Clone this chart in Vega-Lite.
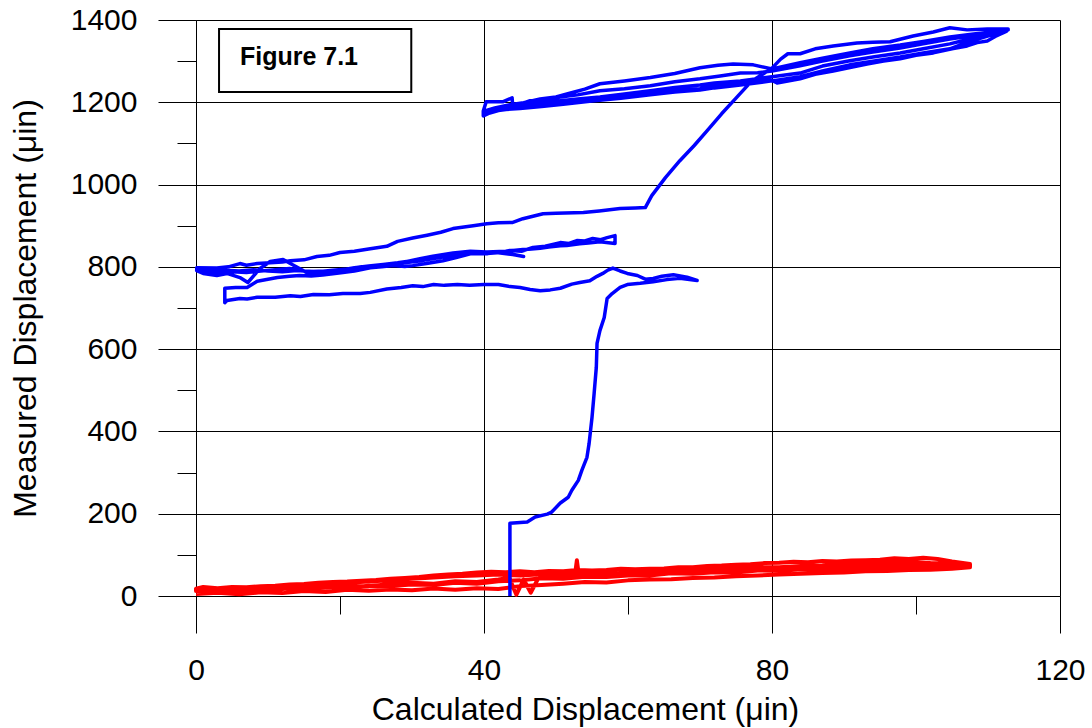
{
  "$schema": "https://vega.github.io/schema/vega-lite/v6.json",
  "width": 864,
  "height": 576,
  "autosize": "none",
  "padding": {"left": 196, "top": 20, "right": 32, "bottom": 132},
  "background": "white",
  "config": {"view": {"stroke": null}, "font": "Liberation Sans"},
  "datasets": {
    "red": [
      {"x":0,"y":5},{"x":3,"y":8},{"x":6,"y":4},{"x":9,"y":9},{"x":12,"y":7},{"x":15,"y":12},{"x":18,"y":10},{"x":21,"y":15},{"x":24,"y":13},{"x":27,"y":16},{"x":30,"y":14},{"x":33,"y":18},{"x":36,"y":15},{"x":39,"y":19},{"x":42,"y":17},{"x":45,"y":24},{"x":48,"y":27},{"x":51,"y":30},{"x":54,"y":34},{"x":57,"y":33},{"x":60,"y":38},{"x":63,"y":40},{"x":66,"y":41},{"x":69,"y":44},{"x":72,"y":45},{"x":75,"y":48},{"x":78,"y":50},{"x":81,"y":52},{"x":84,"y":54},{"x":87,"y":56},{"x":90,"y":57},{"x":93,"y":60},{"x":96,"y":61},{"x":99,"y":63},{"x":102,"y":64},{"x":105,"y":66},{"x":107.5,"y":70},
      {"x":107.5,"y":78},{"x":105,"y":84},{"x":103,"y":90},{"x":101,"y":93},{"x":99,"y":90},{"x":97,"y":92},{"x":95,"y":88},{"x":93,"y":87},{"x":91,"y":86},{"x":89,"y":84},{"x":87,"y":85},{"x":85,"y":82},{"x":83,"y":83},{"x":81,"y":81},{"x":79,"y":80},{"x":77,"y":77},{"x":75,"y":76},{"x":73,"y":74},{"x":71,"y":73},{"x":69,"y":70},{"x":67,"y":70},{"x":65,"y":67},{"x":63,"y":66},{"x":61,"y":65},{"x":59,"y":66},{"x":57,"y":63},{"x":55,"y":62},{"x":53,"y":63},{"x":51,"y":60},{"x":49,"y":61},{"x":47,"y":58},{"x":45,"y":60},{"x":43,"y":58},{"x":41,"y":59},{"x":39,"y":57},{"x":37,"y":54},{"x":35,"y":52},{"x":33,"y":50},{"x":31,"y":46},{"x":29,"y":44},{"x":27,"y":42},{"x":25,"y":39},{"x":23,"y":37},{"x":21,"y":35},{"x":19,"y":34},{"x":17,"y":32},{"x":15,"y":29},{"x":13,"y":28},{"x":11,"y":25},{"x":9,"y":24},{"x":7,"y":21},{"x":5,"y":22},{"x":3,"y":19},{"x":1,"y":22},{"x":0,"y":18},
      {"x":0,"y":12},{"x":3,"y":15},{"x":6,"y":14},{"x":9,"y":19},{"x":12,"y":17},{"x":15,"y":22},{"x":18,"y":20},{"x":21,"y":25},{"x":24,"y":24},{"x":27,"y":29},{"x":30,"y":32},{"x":33,"y":30},{"x":36,"y":36},{"x":39,"y":34},{"x":42,"y":40},{"x":43.5,"y":44},{"x":44.5,"y":3},{"x":45.5,"y":40},{"x":46.5,"y":8},{"x":47.5,"y":42},{"x":48,"y":44},{"x":51,"y":45},{"x":52.6,"y":47},{"x":52.9,"y":87},{"x":53.2,"y":47},{"x":54,"y":47},{"x":57,"y":50},{"x":60,"y":51},{"x":63,"y":54},{"x":66,"y":55},{"x":69,"y":59},{"x":72,"y":60},{"x":75,"y":62},{"x":78,"y":65},{"x":81,"y":66},{"x":84,"y":69},{"x":87,"y":70},{"x":90,"y":72},{"x":93,"y":74},{"x":96,"y":75},{"x":99,"y":78},{"x":102,"y":77},{"x":105,"y":76},{"x":107.5,"y":74},
      {"x":107.5,"y":70},{"x":105,"y":67},{"x":102,"y":70},{"x":99,"y":68},{"x":96,"y":70},{"x":93,"y":66},{"x":90,"y":67},{"x":87,"y":64},{"x":84,"y":65},{"x":81,"y":61},{"x":78,"y":62},{"x":75,"y":57},{"x":72,"y":58},{"x":69,"y":54},{"x":66,"y":55},{"x":63,"y":50},{"x":60,"y":50},{"x":57,"y":46},{"x":54,"y":47},{"x":51,"y":42},{"x":48,"y":43},{"x":45,"y":38},{"x":42,"y":36},{"x":39,"y":30},{"x":36,"y":32},{"x":33,"y":27},{"x":30,"y":28},{"x":27,"y":24},{"x":24,"y":25},{"x":21,"y":20},{"x":18,"y":22},{"x":15,"y":17},{"x":12,"y":18},{"x":9,"y":13},{"x":6,"y":15},{"x":3,"y":10},{"x":0,"y":12},
      {"x":0,"y":16},{"x":3,"y":19},{"x":6,"y":18},{"x":9,"y":23},{"x":12,"y":22},{"x":15,"y":27},{"x":18,"y":28},{"x":21,"y":32},{"x":24,"y":35},{"x":27,"y":38},{"x":30,"y":42},{"x":33,"y":45},{"x":36,"y":48},{"x":39,"y":50},{"x":42,"y":52},{"x":45,"y":50},{"x":48,"y":53},{"x":51,"y":52},{"x":54,"y":55},{"x":57,"y":54},{"x":60,"y":57},{"x":63,"y":58},{"x":66,"y":61},{"x":69,"y":62},{"x":72,"y":65},{"x":75,"y":66},{"x":78,"y":70},{"x":81,"y":70},{"x":84,"y":73},{"x":87,"y":74},{"x":90,"y":78},{"x":93,"y":77},{"x":96,"y":82},{"x":99,"y":84},{"x":102,"y":80},{"x":105,"y":79},{"x":107.5,"y":76}
    ],
    "blue": [
      {"x":43.6,"y":0},{"x":43.6,"y":177},{"x":46.0,"y":180},{"x":47.1,"y":192},{"x":48.8,"y":199},{"x":49.4,"y":204},{"x":50.6,"y":226},{"x":51.7,"y":240},{"x":52.2,"y":257},{"x":53.1,"y":281},{"x":53.6,"y":306},{"x":54.3,"y":337},{"x":54.6,"y":371},{"x":55.0,"y":434},{"x":55.3,"y":493},{"x":55.6,"y":556},{"x":55.7,"y":614},{"x":56.1,"y":645},{"x":56.7,"y":677},{"x":57.1,"y":723},{"x":57.8,"y":735},{"x":58.9,"y":750},{"x":59.9,"y":757},{"x":61.7,"y":760},{"x":63.5,"y":764},{"x":65.4,"y":769},{"x":67.2,"y":772},{"x":69.6,"y":767},
      {"x":68.2,"y":775},{"x":66.3,"y":781},{"x":64.7,"y":777},{"x":63.5,"y":772},{"x":62.4,"y":770},{"x":61.3,"y":779},{"x":59.9,"y":784},{"x":58.9,"y":790},{"x":57.9,"y":797},{"x":57.2,"y":792},{"x":56.5,"y":784},{"x":55.7,"y":777},{"x":54.7,"y":766},{"x":53.3,"y":762},{"x":52.2,"y":758},{"x":50.6,"y":748},{"x":49.2,"y":744},{"x":47.8,"y":742},{"x":46.4,"y":745},{"x":45.0,"y":750},{"x":43.6,"y":752},{"x":42.0,"y":757},{"x":40.0,"y":757},{"x":38.0,"y":755},{"x":36.3,"y":757},{"x":34.5,"y":755},{"x":33.0,"y":757},{"x":31.5,"y":752},{"x":30.1,"y":754},{"x":28.5,"y":750},{"x":26.5,"y":746},{"x":24.2,"y":738},{"x":22.8,"y":735},{"x":20.4,"y":735},{"x":18.5,"y":732},{"x":16.3,"y":733},{"x":14.5,"y":728},{"x":13.1,"y":730},{"x":11.0,"y":726},{"x":8.5,"y":726},{"x":7.1,"y":722},{"x":6.1,"y":723},{"x":4.3,"y":718},{"x":4.0,"y":713},
      {"x":4.0,"y":748},{"x":5.5,"y":750},{"x":7.1,"y":750},{"x":8.5,"y":765},{"x":10,"y":770},{"x":11.3,"y":774},{"x":13,"y":777},{"x":14.4,"y":779},{"x":16,"y":778},{"x":17.6,"y":780},{"x":19,"y":783},{"x":20.4,"y":786},{"x":22,"y":790},{"x":24.2,"y":798},{"x":25.8,"y":800},{"x":27.4,"y":803},{"x":29,"y":801},{"x":30.1,"y":803},{"x":32,"y":808},{"x":34.3,"y":815},{"x":36,"y":822},{"x":38.1,"y":832},{"x":40,"y":832},{"x":41.8,"y":834},{"x":43.6,"y":840},{"x":45.2,"y":838},{"x":46.8,"y":847},{"x":48.5,"y":850},{"x":50.6,"y":859},{"x":51.8,"y":857},{"x":52.9,"y":864},{"x":54,"y":863},{"x":55.1,"y":869},{"x":56.2,"y":866},{"x":57.1,"y":871},{"x":58.2,"y":876},{"x":58.2,"y":857},
      {"x":56.1,"y":861},{"x":54.5,"y":858},{"x":53.3,"y":856},{"x":51.5,"y":852},{"x":50.6,"y":851},{"x":49,"y":848},{"x":47.8,"y":845},{"x":46.2,"y":843},{"x":45.4,"y":842},{"x":43.0,"y":838},{"x":40.4,"y":836},{"x":38.1,"y":838},{"x":35.7,"y":834},{"x":32.9,"y":826},{"x":31.1,"y":820},{"x":29.0,"y":812},{"x":27.4,"y":808},{"x":24.5,"y":800},{"x":22.8,"y":796},{"x":21.4,"y":796},{"x":19.0,"y":787},{"x":16.8,"y":784},{"x":15.4,"y":786},{"x":13.1,"y":808},{"x":12.1,"y":818},{"x":10.3,"y":813},{"x":8.9,"y":796},{"x":7.2,"y":762},{"x":6.1,"y":774},{"x":4.3,"y":784},{"x":2.9,"y":779},{"x":1.0,"y":784},{"x":0.1,"y":791},
      {"x":1.5,"y":787},{"x":3,"y":785},{"x":5,"y":788},{"x":7,"y":786},{"x":9,"y":790},{"x":11,"y":793},{"x":13,"y":796},{"x":15,"y":790},{"x":17,"y":788},{"x":19,"y":792},{"x":21,"y":795},{"x":23,"y":800},{"x":25,"y":803},{"x":27,"y":806},{"x":29,"y":810},{"x":31,"y":814},{"x":33,"y":820},{"x":35,"y":826},{"x":37,"y":830},{"x":39,"y":834},{"x":40.4,"y":832},{"x":42,"y":836},{"x":43.6,"y":832},{"x":45.5,"y":825},
      {"x":44,"y":830},{"x":42,"y":834},{"x":40,"y":836},{"x":38,"y":833},{"x":36,"y":829},{"x":34,"y":826},{"x":32,"y":820},{"x":30,"y":815},{"x":28,"y":810},{"x":26,"y":806},{"x":24,"y":802},{"x":22,"y":798},{"x":20,"y":792},{"x":18,"y":790},{"x":16,"y":789},{"x":14,"y":791},{"x":12,"y":788},{"x":10,"y":790},{"x":8,"y":793},{"x":6,"y":790},{"x":4,"y":792},{"x":2,"y":789},{"x":0.1,"y":793},
      {"x":0.1,"y":798},{"x":2.9,"y":797},{"x":4.5,"y":800},{"x":6.1,"y":808},{"x":7,"y":804},{"x":8.5,"y":808},{"x":10.3,"y":810},{"x":12,"y":812},{"x":13.1,"y":815},{"x":15,"y":817},{"x":16.8,"y":825},{"x":18.5,"y":828},{"x":20,"y":835},{"x":22,"y":838},{"x":24.2,"y":844},{"x":26.5,"y":850},{"x":28,"y":862},{"x":30.1,"y":870},{"x":32.1,"y":877},{"x":34,"y":884},{"x":35.7,"y":893},{"x":38.5,"y":900},{"x":40.4,"y":905},{"x":42,"y":907},{"x":44.0,"y":908},{"x":45.4,"y":917},{"x":48.2,"y":929},{"x":50,"y":930},{"x":53.8,"y":932},{"x":56,"y":936},{"x":58.9,"y":942},{"x":61,"y":943},{"x":62.4,"y":944},{"x":63.3,"y":973},{"x":65.2,"y":1017},{"x":67.2,"y":1058},{"x":69.2,"y":1095},{"x":71,"y":1131},{"x":73,"y":1172},{"x":75,"y":1210},{"x":77.2,"y":1252},{"x":78.7,"y":1268},{"x":80,"y":1283},{"x":81.2,"y":1305},{"x":82.2,"y":1318},{"x":83.9,"y":1318},{"x":86,"y":1330},{"x":88.5,"y":1337},{"x":91.8,"y":1344},{"x":94,"y":1346},{"x":96.4,"y":1347},{"x":99.6,"y":1361},{"x":102.4,"y":1371},{"x":104.7,"y":1381},{"x":107.1,"y":1376},{"x":109.9,"y":1378},{"x":112.8,"y":1378},
      {"x":112.6,"y":1373},{"x":111,"y":1360},{"x":109.9,"y":1349},{"x":108.5,"y":1345},{"x":107.1,"y":1337},{"x":105,"y":1330},{"x":102.4,"y":1320},{"x":100,"y":1314},{"x":97.8,"y":1306},{"x":95.5,"y":1300},{"x":93.2,"y":1293},{"x":91,"y":1285},{"x":88.5,"y":1276},{"x":86,"y":1268},{"x":83.9,"y":1257},{"x":80.7,"y":1247},{"x":79.3,"y":1259},{"x":77,"y":1250},{"x":74.6,"y":1247},{"x":72,"y":1240},{"x":70,"y":1233},{"x":66.5,"y":1228},{"x":63.1,"y":1223},{"x":59.5,"y":1215},{"x":56.1,"y":1208},{"x":53,"y":1203},{"x":50.6,"y":1196},{"x":48.5,"y":1193},{"x":46.4,"y":1189},{"x":45,"y":1190},{"x":43.6,"y":1184},{"x":42,"y":1180},{"x":40.8,"y":1174},{"x":39.9,"y":1167},
      {"x":39.9,"y":1179},{"x":40.3,"y":1201},{"x":42.6,"y":1201},{"x":43.9,"y":1211},{"x":44.0,"y":1189},
      {"x":46.4,"y":1204},{"x":48.5,"y":1206},{"x":50.6,"y":1213},{"x":53,"y":1218},{"x":56.1,"y":1228},{"x":59.5,"y":1233},{"x":63.1,"y":1240},{"x":66.5,"y":1250},{"x":70,"y":1257},{"x":72.8,"y":1264},{"x":75.6,"y":1271},{"x":78,"y":1272},{"x":80,"y":1276},{"x":83.9,"y":1289},{"x":87,"y":1300},{"x":90.8,"y":1313},{"x":94,"y":1322},{"x":97.8,"y":1332},{"x":101,"y":1342},{"x":104.7,"y":1354},{"x":108,"y":1362},{"x":111.7,"y":1371},{"x":112.8,"y":1376},
      {"x":110.3,"y":1364},{"x":107,"y":1352},{"x":104.7,"y":1342},{"x":101,"y":1330},{"x":97.8,"y":1320},{"x":94,"y":1310},{"x":90.8,"y":1301},{"x":87,"y":1288},{"x":83.9,"y":1271},{"x":80,"y":1262},{"x":75.6,"y":1252},{"x":72,"y":1247},{"x":70,"y":1242},{"x":66.5,"y":1236},{"x":63.1,"y":1228},{"x":59.5,"y":1220},{"x":56.1,"y":1213},{"x":53,"y":1208},{"x":50.6,"y":1204},{"x":48.5,"y":1200},{"x":46.4,"y":1196},{"x":44,"y":1190},{"x":42.2,"y":1187},{"x":40.1,"y":1179},
      {"x":41.5,"y":1186},{"x":43.6,"y":1194},{"x":45.5,"y":1199},{"x":47.8,"y":1208},{"x":50,"y":1213},{"x":51.9,"y":1222},{"x":54,"y":1232},{"x":56.1,"y":1245},{"x":59.5,"y":1252},{"x":63.1,"y":1260},{"x":66.5,"y":1270},{"x":70,"y":1284},{"x":72.5,"y":1290},{"x":74.6,"y":1293},{"x":77.4,"y":1291},{"x":80,"y":1281},{"x":83.9,"y":1296},{"x":87,"y":1307},{"x":90.8,"y":1320},{"x":94,"y":1330},{"x":97.8,"y":1339},{"x":101,"y":1348},{"x":104.7,"y":1359},{"x":108,"y":1366},{"x":111.7,"y":1373},{"x":112.8,"y":1376},
      {"x":109.6,"y":1359},{"x":107,"y":1345},{"x":104.7,"y":1330},{"x":101,"y":1320},{"x":97.8,"y":1310},{"x":94,"y":1300},{"x":90.8,"y":1291},{"x":87,"y":1276},{"x":83.9,"y":1262},{"x":80,"y":1252},{"x":75.6,"y":1242},{"x":72,"y":1235},{"x":70,"y":1230},{"x":66.5,"y":1225},{"x":63.1,"y":1218},{"x":59,"y":1210},{"x":55,"y":1203},{"x":51,"y":1195},{"x":48,"y":1190},{"x":45,"y":1185},{"x":42.5,"y":1182},{"x":41,"y":1176},{"x":40.2,"y":1170}
    ],
    "box": [{"label": "Figure 7.1", "x1": 3.2, "x2": 29.9, "y1": 1225, "y2": 1378, "tx": 6.1, "ty": 1291}]
  },
  "layer": [
    {
      "data": {"name": "red"},
      "mark": {"type": "line", "strokeWidth": 4, "strokeJoin": "round", "color": "#ff0000"},
      "encoding": {
        "x": {
          "field": "x", "type": "quantitative",
          "scale": {"domain": [0, 120], "nice": false, "zero": false},
          "axis": {
            "values": [0, 20, 40, 60, 80, 100, 120],
            "format": "d",
            "title": "Calculated Displacement (μin)",
            "titleFontSize": 32, "titleFontWeight": "normal", "titleColor": "#000", "titlePadding": 9,
            "titleX": 389, "titleAlign": "center",
            "labelFontSize": 30, "labelColor": "#000", "labelFlush": false, "labelOverlap": false,
            "labelExpr": "datum.value % 40 === 0 ? datum.label : ''",
            "labelPadding": 22,
            "tickColor": "#000", "tickWidth": 1,
            "tickSize": {"condition": {"test": "datum.value % 40 === 0", "value": 37}, "value": 18},
            "domainColor": "#000", "domainWidth": 1,
            "grid": true, "gridColor": "#000", "gridWidth": 1,
            "gridOpacity": {"condition": {"test": "datum.value % 40 === 0", "value": 1}, "value": 0}
          }
        },
        "y": {
          "field": "y", "type": "quantitative",
          "scale": {"domain": [0, 1400], "nice": false, "zero": false},
          "axis": {
            "values": [0, 100, 200, 300, 400, 500, 600, 700, 800, 900, 1000, 1100, 1200, 1300, 1400],
            "format": "d",
            "title": "Measured Displacement (μin)",
            "titleFontSize": 32, "titleFontWeight": "normal", "titleColor": "#000", "titlePadding": 28,
            "labelFontSize": 30, "labelColor": "#000", "labelFlush": false, "labelOverlap": false,
            "labelExpr": "datum.value % 200 === 0 ? datum.label : ''",
            "labelPadding": 21,
            "tickColor": "#000", "tickWidth": 1,
            "tickSize": {"condition": {"test": "datum.value % 200 === 0", "value": 38}, "value": 19},
            "domainColor": "#000", "domainWidth": 1,
            "grid": true, "gridColor": "#000", "gridWidth": 1,
            "gridOpacity": {"condition": {"test": "datum.value % 200 === 0", "value": 1}, "value": 0}
          }
        },
        "order": {"value": null}
      }
    },
    {
      "data": {"name": "blue"},
      "mark": {"type": "line", "strokeWidth": 3.5, "strokeJoin": "round", "color": "#0000ff"},
      "encoding": {
        "x": {"field": "x", "type": "quantitative"},
        "y": {"field": "y", "type": "quantitative"},
        "order": {"value": null}
      }
    },
    {
      "data": {"name": "box"},
      "mark": {"type": "rect", "fill": "white", "stroke": "#000", "strokeWidth": 2},
      "encoding": {
        "x": {"field": "x1", "type": "quantitative"},
        "x2": {"field": "x2"},
        "y": {"field": "y1", "type": "quantitative"},
        "y2": {"field": "y2"}
      }
    },
    {
      "data": {"name": "box"},
      "mark": {"type": "text", "align": "left", "baseline": "alphabetic", "fontSize": 25, "fontWeight": "bold", "font": "Liberation Sans", "color": "#000"},
      "encoding": {
        "x": {"field": "tx", "type": "quantitative"},
        "y": {"field": "ty", "type": "quantitative"},
        "text": {"field": "label"}
      }
    }
  ]
}
